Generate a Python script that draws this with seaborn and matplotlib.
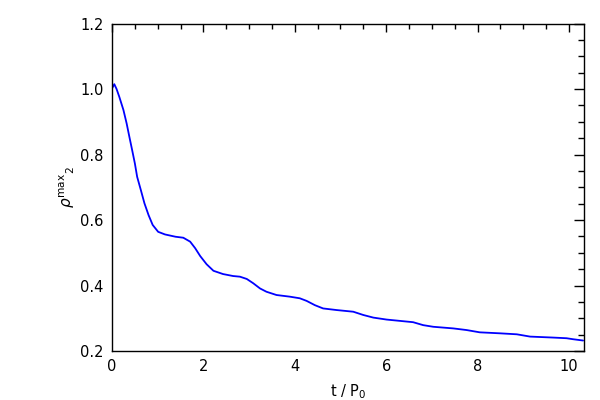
import pandas as pd
import matplotlib
matplotlib.use("Agg")
import matplotlib.pyplot as plt
import seaborn as sns
from matplotlib.ticker import MultipleLocator

# values
t_values = [0.0, 0.05, 0.10, 0.16, 0.25, 0.32, 0.38, 0.44, 0.50, 0.55, 0.63, 0.71,
            0.80, 0.89, 1.01, 1.16, 1.39, 1.56, 1.71, 1.82, 1.93, 2.07, 2.22, 2.43,
            2.65, 2.80, 2.95, 3.09, 3.24, 3.38, 3.60, 3.89, 4.11, 4.26, 4.44, 4.62,
            4.92, 5.28, 5.50, 5.72, 6.01, 6.30, 6.59, 6.81, 7.03, 7.47, 7.76, 8.05,
            8.49, 8.86, 9.15, 9.66, 9.95, 10.09, 10.31]
rho_values = [1.002, 1.015, 1.000, 0.976, 0.936, 0.895, 0.854, 0.814, 0.773, 0.732, 0.692, 0.651,
              0.615, 0.585, 0.564, 0.556, 0.549, 0.546, 0.534, 0.514, 0.490, 0.465, 0.445, 0.435,
              0.429, 0.427, 0.420, 0.407, 0.391, 0.381, 0.371, 0.366, 0.361, 0.353, 0.340, 0.330,
              0.325, 0.320, 0.310, 0.302, 0.296, 0.292, 0.288, 0.279, 0.274, 0.269, 0.264, 0.257,
              0.254, 0.251, 0.244, 0.241, 0.239, 0.236, 0.232]

df = pd.DataFrame({"t": t_values, "rho": rho_values})

sns.set_style("white")
plt.rcParams['font.family'] = ['DejaVu Sans']
plt.rcParams['text.color'] = 'black'
plt.rcParams['axes.labelcolor'] = 'black'
plt.rcParams['xtick.color'] = 'black'
plt.rcParams['ytick.color'] = 'black'

fig = plt.figure(figsize=(6, 4), dpi=100)
ax = fig.add_axes([0.1867, 0.1225, 0.7866, 0.8185])

sns.lineplot(data=df, x="t", y="rho", color="#0000ff", linewidth=1.3, ax=ax)

ax.set_xlim(0, 10.33)
ax.set_ylim(0.2, 1.2)
ax.xaxis.set_major_locator(MultipleLocator(2))
ax.xaxis.set_minor_locator(MultipleLocator(0.5))
ax.yaxis.set_major_locator(MultipleLocator(0.2))
ax.yaxis.set_minor_locator(MultipleLocator(0.05))
ax.yaxis.set_major_formatter(matplotlib.ticker.FormatStrFormatter('%.1f'))

ax.tick_params(axis='both', which='both', direction='in', top=True, right=True,
               labelsize=10.5, colors='black', width=1, pad=6)
ax.tick_params(axis='x', which='major', length=6)
ax.tick_params(axis='x', which='minor', length=3.5)
ax.tick_params(axis='y', which='major', length=7)
ax.tick_params(axis='y', which='minor', length=4.5)

for spine in ax.spines.values():
    spine.set_color('black')
    spine.set_linewidth(1)

ax.set_xlabel(r't / P$_0$', fontsize=10.5, labelpad=6)
ax.set_ylabel(r'$\rho^{\rm max}{}_{2}$', fontsize=11, labelpad=2)

fig.savefig("out.png", dpi=100)
